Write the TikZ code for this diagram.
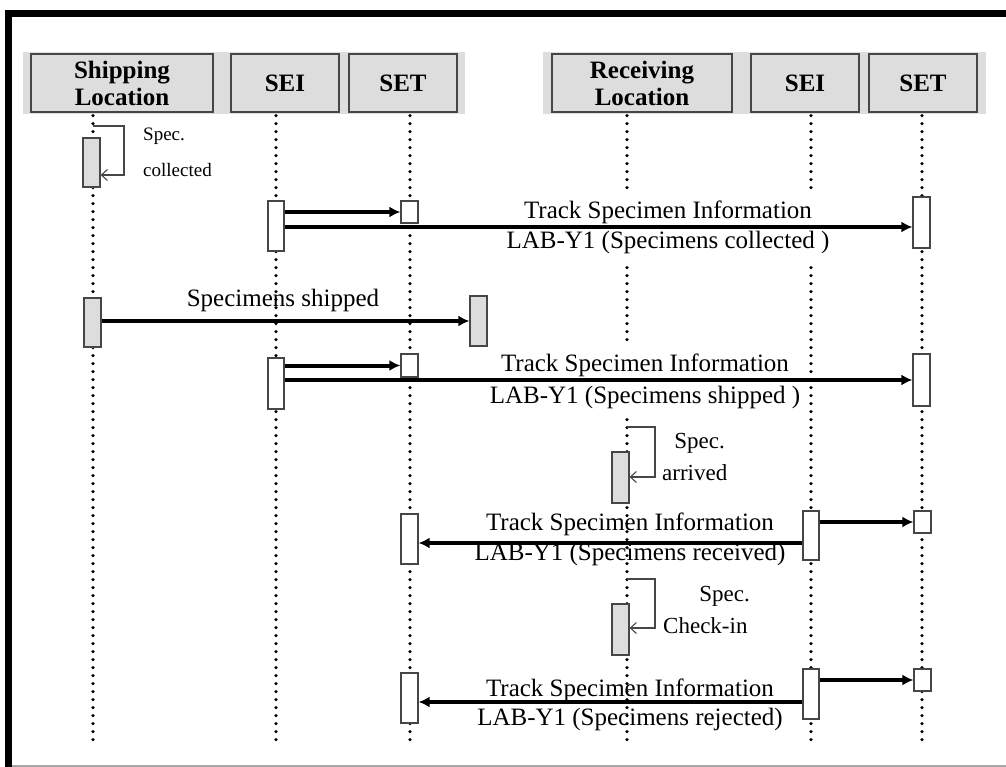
\documentclass[tikz,border=0pt]{standalone}
\usepackage{fontspec}
\setmainfont{Liberation Serif}
\usetikzlibrary{arrows.meta,calc}
\definecolor{hdr}{RGB}{221,221,221}
\definecolor{edgec}{RGB}{70,70,70}
\begin{document}
\begin{tikzpicture}[x=1pt,y=-1pt,
  hbox/.style={draw=edgec, line width=1.2pt, fill=hdr, inner sep=0pt, align=center,
    minimum height=58pt, font=\bfseries\fontsize{25}{27}\selectfont},
  life/.style={line width=3.6pt, line cap=round, dash pattern=on 0pt off 8pt},
  act/.style={draw=edgec, line width=1.2pt, fill=white, minimum width=17pt, inner sep=0pt},
  gact/.style={act, fill=hdr},
  msg/.style={font=\fontsize{25}{30}\selectfont, align=center, inner sep=0pt},
  cover/.style={fill=white, inner xsep=8pt, inner ysep=9pt},
  slab/.style={font=\fontsize{19}{19}\selectfont, inner sep=0pt},
  slabb/.style={font=\fontsize{23}{23}\selectfont, inner sep=0pt},
  marrow/.style={line width=4pt, -{Latex[length=11pt,width=11pt]}},
  selfmsg/.style={draw=edgec, line width=1.1pt, -{Straight Barb[length=6pt,width=11pt]}}
]
\useasboundingbox (0,0) rectangle (1006,767);

% header bands
\fill[hdr] (23,52) rectangle (465,114);
\fill[hdr] (543,52) rectangle (986,114);

% header boxes
\node[hbox, minimum width=182pt] (ship) at (122,83) {Shipping\\Location};
\node[hbox, minimum width=108pt] (sei1) at (285,83) {SEI};
\node[hbox, minimum width=108pt] (set1) at (403,83) {SET};
\node[hbox, minimum width=180pt] (recv) at (642,83) {Receiving\\Location};
\node[hbox, minimum width=108pt] (sei2) at (805,83) {SEI};
\node[hbox, minimum width=108pt] (set2) at (923,83) {SET};

% lifelines
\coordinate (shipend) at (93,741);
\coordinate (sei1end) at (276,741);
\coordinate (set1end) at (410,741);
\coordinate (recvend) at (627,740);
\coordinate (sei2end) at (811,745);
\coordinate (set2end) at (922,741);
\draw[life] (ship.south -| shipend) ++(0,3) -- (shipend);
\draw[life] (sei1.south -| sei1end) ++(0,3) -- (sei1end);
\draw[life] (set1.south -| set1end) ++(0,3) -- (set1end);
\draw[life] (recv.south -| recvend) ++(0,3) -- (recvend);
\draw[life] (sei2.south -| sei2end) ++(0,3) -- (sei2end);
\draw[life] (set2.south -| set2end) ++(0,3) -- (set2end);

% message texts
\node[msg, cover] (t2) at (668,227) {Track Specimen Information\\LAB-Y1 (Specimens collected )};
\node[msg, cover, font=\fontsize{25}{32}\selectfont] (t4) at (645,381) {Track Specimen Information\\LAB-Y1 (Specimens shipped )};
\node[msg] (t3) at (283,300) {Specimens shipped};
\node[msg] (t6) at (630,539) {Track Specimen Information\\LAB-Y1 (Specimens received)};
\node[msg, font=\fontsize{25}{29}\selectfont] (t8) at (630,705) {Track Specimen Information\\LAB-Y1 (Specimens rejected)};

% self-message labels
\node[slab, anchor=west] (c1) at (143,136) {Spec.};
\node[slab, anchor=west] (c2) at (143,170) {collected};
\node[slabb, anchor=east] (r1) at (725,443) {Spec.};
\node[slabb, anchor=west] (r2) at (662,473) {arrived};
\node[slabb, anchor=east] (k1) at (750,596) {Spec.};
\node[slabb, anchor=west] (k2) at (663,626) {Check-in};

% activation boxes
\node[gact, minimum height=49pt] (a1) at (91.5,162.5) {};
\node[act, minimum width=16pt, minimum height=50pt] (a2) at (276,226) {};
\node[act, minimum height=22pt] (a3) at (409.5,212) {};
\node[act, minimum height=51pt] (a4) at (921.5,222.5) {};
\node[gact, minimum height=49pt] (a5) at (92.5,322.5) {};
\node[gact, minimum height=50pt] (a6) at (478.5,321) {};
\node[act, minimum width=16pt, minimum height=51pt] (a7) at (276,383.5) {};
\node[act, minimum height=23pt] (a8) at (409.5,365.5) {};
\node[act, minimum height=52pt] (a9) at (921.5,380) {};
\node[gact, minimum height=51pt] (a10) at (620.5,477.5) {};
\node[act, minimum width=16pt, minimum height=49pt] (a11) at (811,535.5) {};
\node[act, minimum height=22pt] (a12) at (922.5,522) {};
\node[act, minimum height=50pt] (a13) at (409.5,539) {};
\node[gact, minimum height=51pt] (a14) at (620.5,629.5) {};
\node[act, minimum width=16pt, minimum height=50pt] (a15) at (811,694) {};
\node[act, minimum height=22pt] (a16) at (922.5,680) {};
\node[act, minimum height=50pt] (a17) at (409.5,698) {};

% messages
\draw[marrow] (a2.east |- a3.west) -- (a3.west);
\draw[marrow] (a2.east |- 0,227) -- (a4.west |- 0,227);
\draw[marrow] (a5.east |- a6.west) -- (a6.west);
\draw[marrow] (a7.east |- a8.west) -- (a8.west);
\draw[marrow] (a7.east |- a9.west) -- (a9.west);
\draw[marrow] (a11.east |- a12.west) -- (a12.west);
\draw[marrow] (a11.west |- 0,543) -- (a13.east |- 0,543);
\draw[marrow] (a15.east |- a16.west) -- (a16.west);
\draw[marrow] (a15.west |- 0,702) -- (a17.east |- 0,702);

% self messages
\coordinate (s1) at (93,126);
\coordinate (s2) at (627,427);
\coordinate (s3) at (627,579);
\draw[selfmsg] (s1) -| (124,175) -- (a1.east |- 0,175);
\draw[selfmsg] (s2) -| (655,477) -- (a10.east |- 0,477);
\draw[selfmsg] (s3) -| (655,628) -- (a14.east |- 0,628);

% frame
\draw[line width=7pt] (5,13.5) -- (1006,13.5);
\draw[line width=7pt] (8.5,10) -- (8.5,767);
\draw[gray!70, line width=1.5pt] (12,766) -- (1006,766);
\end{tikzpicture}
\end{document}
